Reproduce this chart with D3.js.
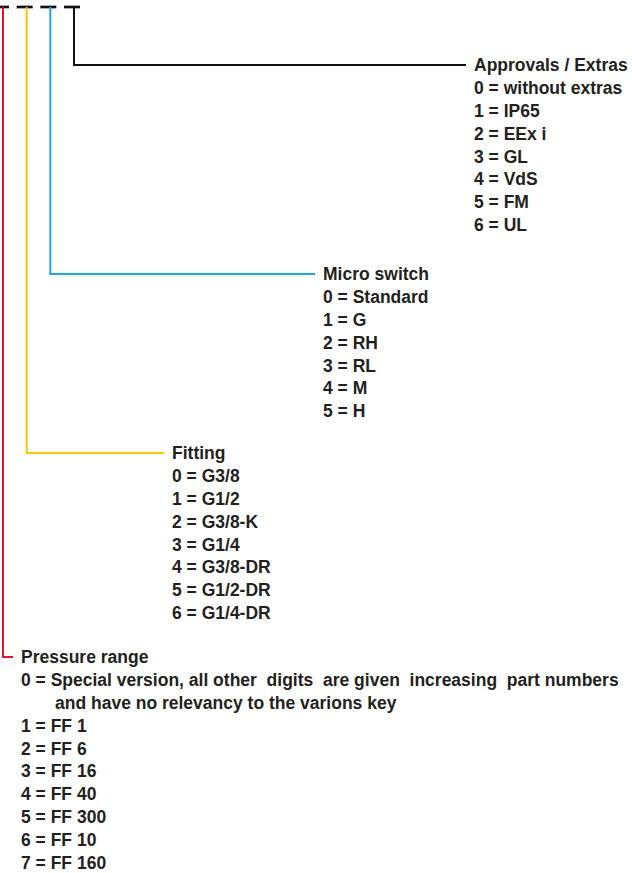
<!DOCTYPE html>
<html>
<head>
<meta charset="utf-8">
<script src="https://cdn.jsdelivr.net/npm/d3@7"></script>
<style>
body { margin:0; background:#fff; }
text { font-family:"Liberation Sans", Arial, sans-serif; font-weight:bold; font-size:17.5px; fill:#231f20; white-space:pre; }
</style>
</head>
<body>
<svg id="key" width="632" height="873"></svg>
<script>
// the four digits of the key, left to right
var digits = [0, 1, 2, 3];
var digitColors = ["#e3122f", "#f6c500", "#1ba6e6", "#111111"];

var pressureTitle = "Pressure range";
var pressureItems = [
  "0 = Special version, all other  digits  are given  increasing  part numbers",
  "and have no relevancy to the varions key",
  "1 = FF 1", "2 = FF 6", "3 = FF 16", "4 = FF 40", "5 = FF 300", "6 = FF 10", "7 = FF 160"
];
var fittingTitle = "Fitting";
var fittingItems = ["0 = G3/8", "1 = G1/2", "2 = G3/8-K", "3 = G1/4", "4 = G3/8-DR", "5 = G1/2-DR", "6 = G1/4-DR"];
var microTitle = "Micro switch";
var microItems = ["0 = Standard", "1 = G", "2 = RH", "3 = RL", "4 = M", "5 = H"];
var approvalsTitle = "Approvals / Extras";
var approvalsItems = ["0 = without extras", "1 = IP65", "2 = EEx i", "3 = GL", "4 = VdS", "5 = FM", "6 = UL"];

var groups = [
  {digit:0, title:pressureTitle, items:pressureItems},
  {digit:1, title:fittingTitle, items:fittingItems},
  {digit:2, title:microTitle, items:microItems},
  {digit:3, title:approvalsTitle, items:approvalsItems}
];

// layout
var topY = 7, rowH = 22.8;
var titleY = [657, 453, 274, 65];     // where each branch turns right
var branchEnd = [13, 164, 315, 466];  // end of each horizontal branch
var textGap = 8;

var svg = d3.select("#key");
var x = d3.scaleLinear().domain([0, 3]).range([3, 74]);

// dashes at the top
svg.selectAll("line.dash").data(digits).enter().append("line")
  .attr("class", "dash")
  .attr("x1", function(d){ return x(d) - 10; })
  .attr("x2", function(d){ return x(d) + 6; })
  .attr("y1", topY).attr("y2", topY)
  .attr("stroke", "#111").attr("stroke-width", 2.7);

// branches
svg.selectAll("path.branch").data(groups).enter().append("path")
  .attr("class", "branch")
  .attr("fill", "none")
  .attr("stroke", function(d){ return digitColors[d.digit]; })
  .attr("stroke-width", 2)
  .attr("d", function(d){
    return "M" + x(d.digit) + "," + topY + "V" + titleY[d.digit] + "H" + branchEnd[d.digit];
  });

// labels
var g = svg.selectAll("g.group").data(groups).enter().append("g")
  .attr("class", "group")
  .attr("transform", function(d){ return "translate(" + (branchEnd[d.digit] + textGap) + "," + titleY[d.digit] + ")"; });

g.append("text").attr("dy", "0.36em").text(function(d){ return d.title; });

g.selectAll("text.item").data(function(d){ return d.items; }).enter().append("text")
  .attr("class", "item")
  .attr("x", function(d){ return /^\d/.test(d) ? 0 : 34; })
  .attr("y", function(d, i){ return (i + 1) * rowH; })
  .attr("dy", "0.36em")
  .text(function(d){ return d; });
</script>
</body>
</html>
